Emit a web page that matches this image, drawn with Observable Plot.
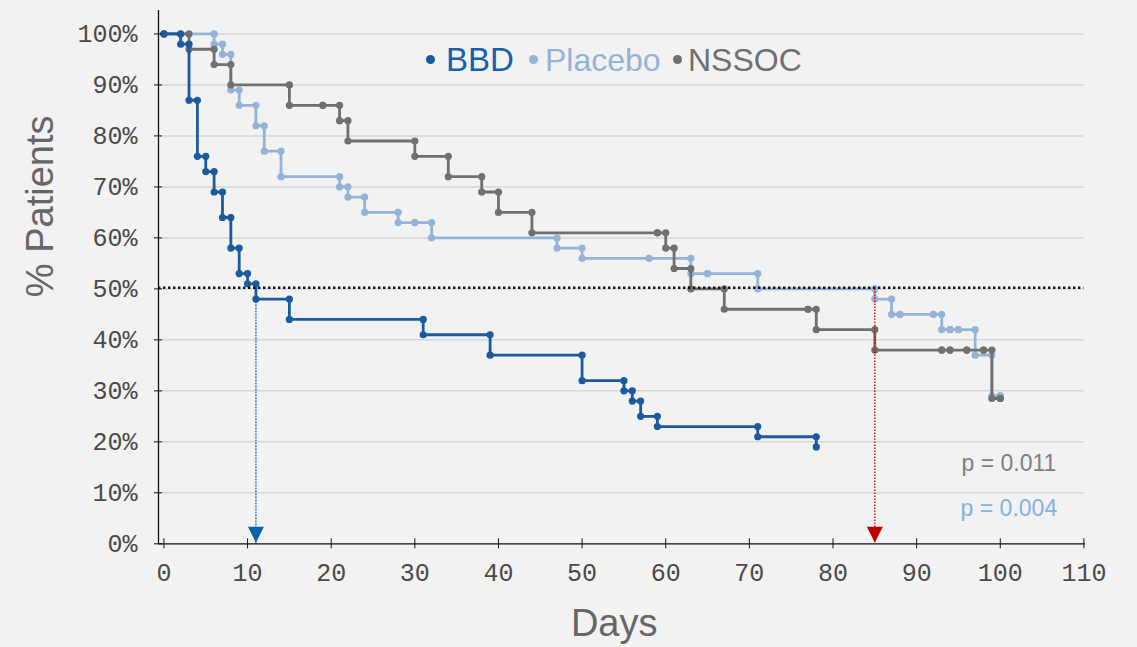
<!DOCTYPE html>
<html><head><meta charset="utf-8">
<script src="https://cdn.jsdelivr.net/npm/d3@7"></script>
<script src="https://cdn.jsdelivr.net/npm/@observablehq/plot@0.6"></script>
<style>
html,body{margin:0;padding:0;background:#f2f2f2;}
#wrap{position:relative;width:1137px;height:647px;overflow:hidden;background:#f2f2f2;}
.lg-dot{position:absolute;width:9px;height:9px;border-radius:50%;}
.lg-txt{position:absolute;font-family:"Liberation Sans",Arial,sans-serif;font-size:32px;line-height:32px;white-space:nowrap;}
</style></head>
<body>
<div id="wrap"></div>
<script>
// ---- data ----
const bbdDays = [0,2,3,4,5,6,7,8,9,10,11,15,31,39,50,55,56,57,59,71,78];
const bbdPct  = [100,98,87,76,73,69,64,58,53,51,48,44,41,37,32,30,28,25,23,21,19];
const placeboDays = [0,6,7,8,9,11,12,14,21,22,24,28,30,32,47,50,58,63,65,71,85,87,88,92,93,94,95,97,99,100];
const placeboPct  = [100,98,96,89,86,82,77,72,70,68,65,63,63,60,58,56,56,53,53,50,48,45,45,45,42,42,42,37,29,29];
const nssocDays = [0,3,6,8,15,19,21,22,30,34,38,40,44,59,60,61,63,67,77,78,85,93,94,96,98,99,100];
const nssocPct  = [100,97,94,90,86,86,83,79,76,72,69,65,61,61,58,54,50,46,46,42,38,38,38,38,38,28.5,28.5];

const seriesNames = ["BBD","Placebo","NSSOC"];
const seriesColors = ["#1b5a9f","#95b3d7","#707070"];
const legendTextColors = ["#1461a8","#95b3d7","#707070"];

const medianDays = [11, 85];
const medianPct = [48, 50];
const medianColors = ["#0a63ad","#c00000"];

const xTicks = [0,10,20,30,40,50,60,70,80,90,100,110];
const yTicks = [0,10,20,30,40,50,60,70,80,90,100];
const gridTicks = [10,20,30,40,50,60,70,80,90,100];
const halfLine = [50];
const pTexts = ["p = 0.011","p = 0.004"];
const pColors = ["#7f7f7f","#86b2dc"];

// ---- build step points ----
function steps(name, days, pct){
  const out = [];
  days.forEach((d,i)=>{
    if(i===0) out.push({series:name, day:d, pct:pct[i]});
    else {
      out.push({series:name, day:d, pct:pct[i-1]});
      out.push({series:name, day:d, pct:pct[i]});
    }
  });
  return out;
}
const bbd = steps("BBD", bbdDays, bbdPct);
const placebo = steps("Placebo", placeboDays, placeboPct);
const nssoc = steps("NSSOC", nssocDays, nssocPct);
const medians = medianDays.map((d,i)=>({day:d, pct:medianPct[i], color:medianColors[i]}));

const downTriangle = {
  draw(ctx, size){
    const r = Math.sqrt(size/Math.PI);
    ctx.moveTo(-r, -r);
    ctx.lineTo(r, -r);
    ctx.lineTo(0, r);
    ctx.closePath();
  }
};

const xMin = -0.65, xMax = 110, yMax = 104.6;
const tickFont = {fontFamily:"Liberation Mono, DejaVu Sans Mono, monospace", fontSize: 25};

function seriesMarks(data, color){
  return [
    Plot.line(data, {x:"day", y:"pct", stroke: color, strokeWidth: 2.8, strokeLinejoin:"round"}),
    Plot.dot(data, {x:"day", y:"pct", fill: color, r: 3.6, stroke: "none"})
  ];
}

const chart = Plot.plot({
  width: 1137, height: 647,
  marginLeft: 158, marginRight: 53.6, marginTop: 10, marginBottom: 103.7,
  style: {background:"#f2f2f2", color:"#444", fontFamily:"Liberation Mono, monospace", fontSize:"25px", overflow:"visible"},
  x: {domain:[xMin, xMax]},
  y: {domain:[0, yMax]},
  marks: [
    Plot.gridY(gridTicks, {stroke:"#d6d6d6", strokeOpacity:1, strokeWidth:1.5}),
    ...seriesMarks(placebo, seriesColors[1]),
    ...seriesMarks(nssoc, seriesColors[2]),
    ...seriesMarks(bbd, seriesColors[0]),
    Plot.ruleY(halfLine, {x1: xMin, x2: xMax, stroke:"#111", strokeWidth:2.5, strokeDasharray:"2.4,2.6", dy:-1.2}),
    Plot.ruleX(medians, {x:"day", y1:"pct", y2:0, stroke:"color", strokeWidth:1.3, strokeDasharray:"1.6,1.4"}),
    Plot.dot(medians, {x:"day", y:0, fill:"color", symbol: downTriangle, r: 8, dy:-9}),
    Plot.ruleY([0], {x1: xMin, x2: xMax + 0.2, stroke:"#111", strokeWidth:1.3}),
    Plot.ruleX([xMin], {y1: 0, y2: yMax, stroke:"#111", strokeWidth:1.3}),
    Plot.axisX(xTicks, {anchor:"bottom", tickSize:5, tickPadding:14, stroke:"#111", tickFormat: d=>String(d), ...tickFont, fill:"#4a4a4a", label:null}),
    Plot.axisX(xTicks, {anchor:"bottom", tickSize:5, dy:-5, text:null, stroke:"#111", label:null}),
    Plot.axisY(yTicks, {anchor:"left", tickSize:4, tickPadding:17, stroke:"#111", tickFormat: d=>`${d}%`, ...tickFont, fill:"#4a4a4a", label:null}),
    Plot.axisY(yTicks, {anchor:"left", tickSize:4, dx:4, text:null, stroke:"#111", label:null}),
    Plot.text(["Days"], {frameAnchor:"bottom", text: d=>d, dx:-7, dy:80, fontFamily:"Liberation Sans, Arial, sans-serif", fontSize:38, fill:"#666", lineAnchor:"middle"}),
    Plot.text(["% Patients"], {frameAnchor:"left", text: d=>d, rotate:-90, dx:-118, dy:20, fontFamily:"Liberation Sans, Arial, sans-serif", fontSize:38, fill:"#666", lineAnchor:"middle"}),
    Plot.text([pTexts[0]], {frameAnchor:"bottom-right", text:d=>d, dx:-75, dy:-80, textAnchor:"middle", lineAnchor:"middle", fontFamily:"Liberation Sans, Arial, sans-serif", fontSize:23, fill:pColors[0]}),
    Plot.text([pTexts[1]], {frameAnchor:"bottom-right", text:d=>d, dx:-75, dy:-35, textAnchor:"middle", lineAnchor:"middle", fontFamily:"Liberation Sans, Arial, sans-serif", fontSize:23, fill:pColors[1]})
  ]
});
const wrap = document.getElementById("wrap");
wrap.appendChild(chart);

// legend overlay
const lgDotX = [430, 533, 677];
const lgTxtX = [446, 545, 688];
seriesNames.forEach((n,i)=>{
  const dot = document.createElement("div");
  dot.className = "lg-dot";
  dot.style.left = (lgDotX[i]-4.5)+"px";
  dot.style.top = (59-4.5)+"px";
  dot.style.background = seriesColors[i];
  wrap.appendChild(dot);
  const t = document.createElement("div");
  t.className = "lg-txt";
  t.style.left = lgTxtX[i]+"px";
  t.style.top = "44px";
  t.style.fontSize = i===0 ? "33px" : "32px";
  t.style.color = legendTextColors[i];
  t.textContent = n;
  wrap.appendChild(t);
});
</script>
</body></html>
